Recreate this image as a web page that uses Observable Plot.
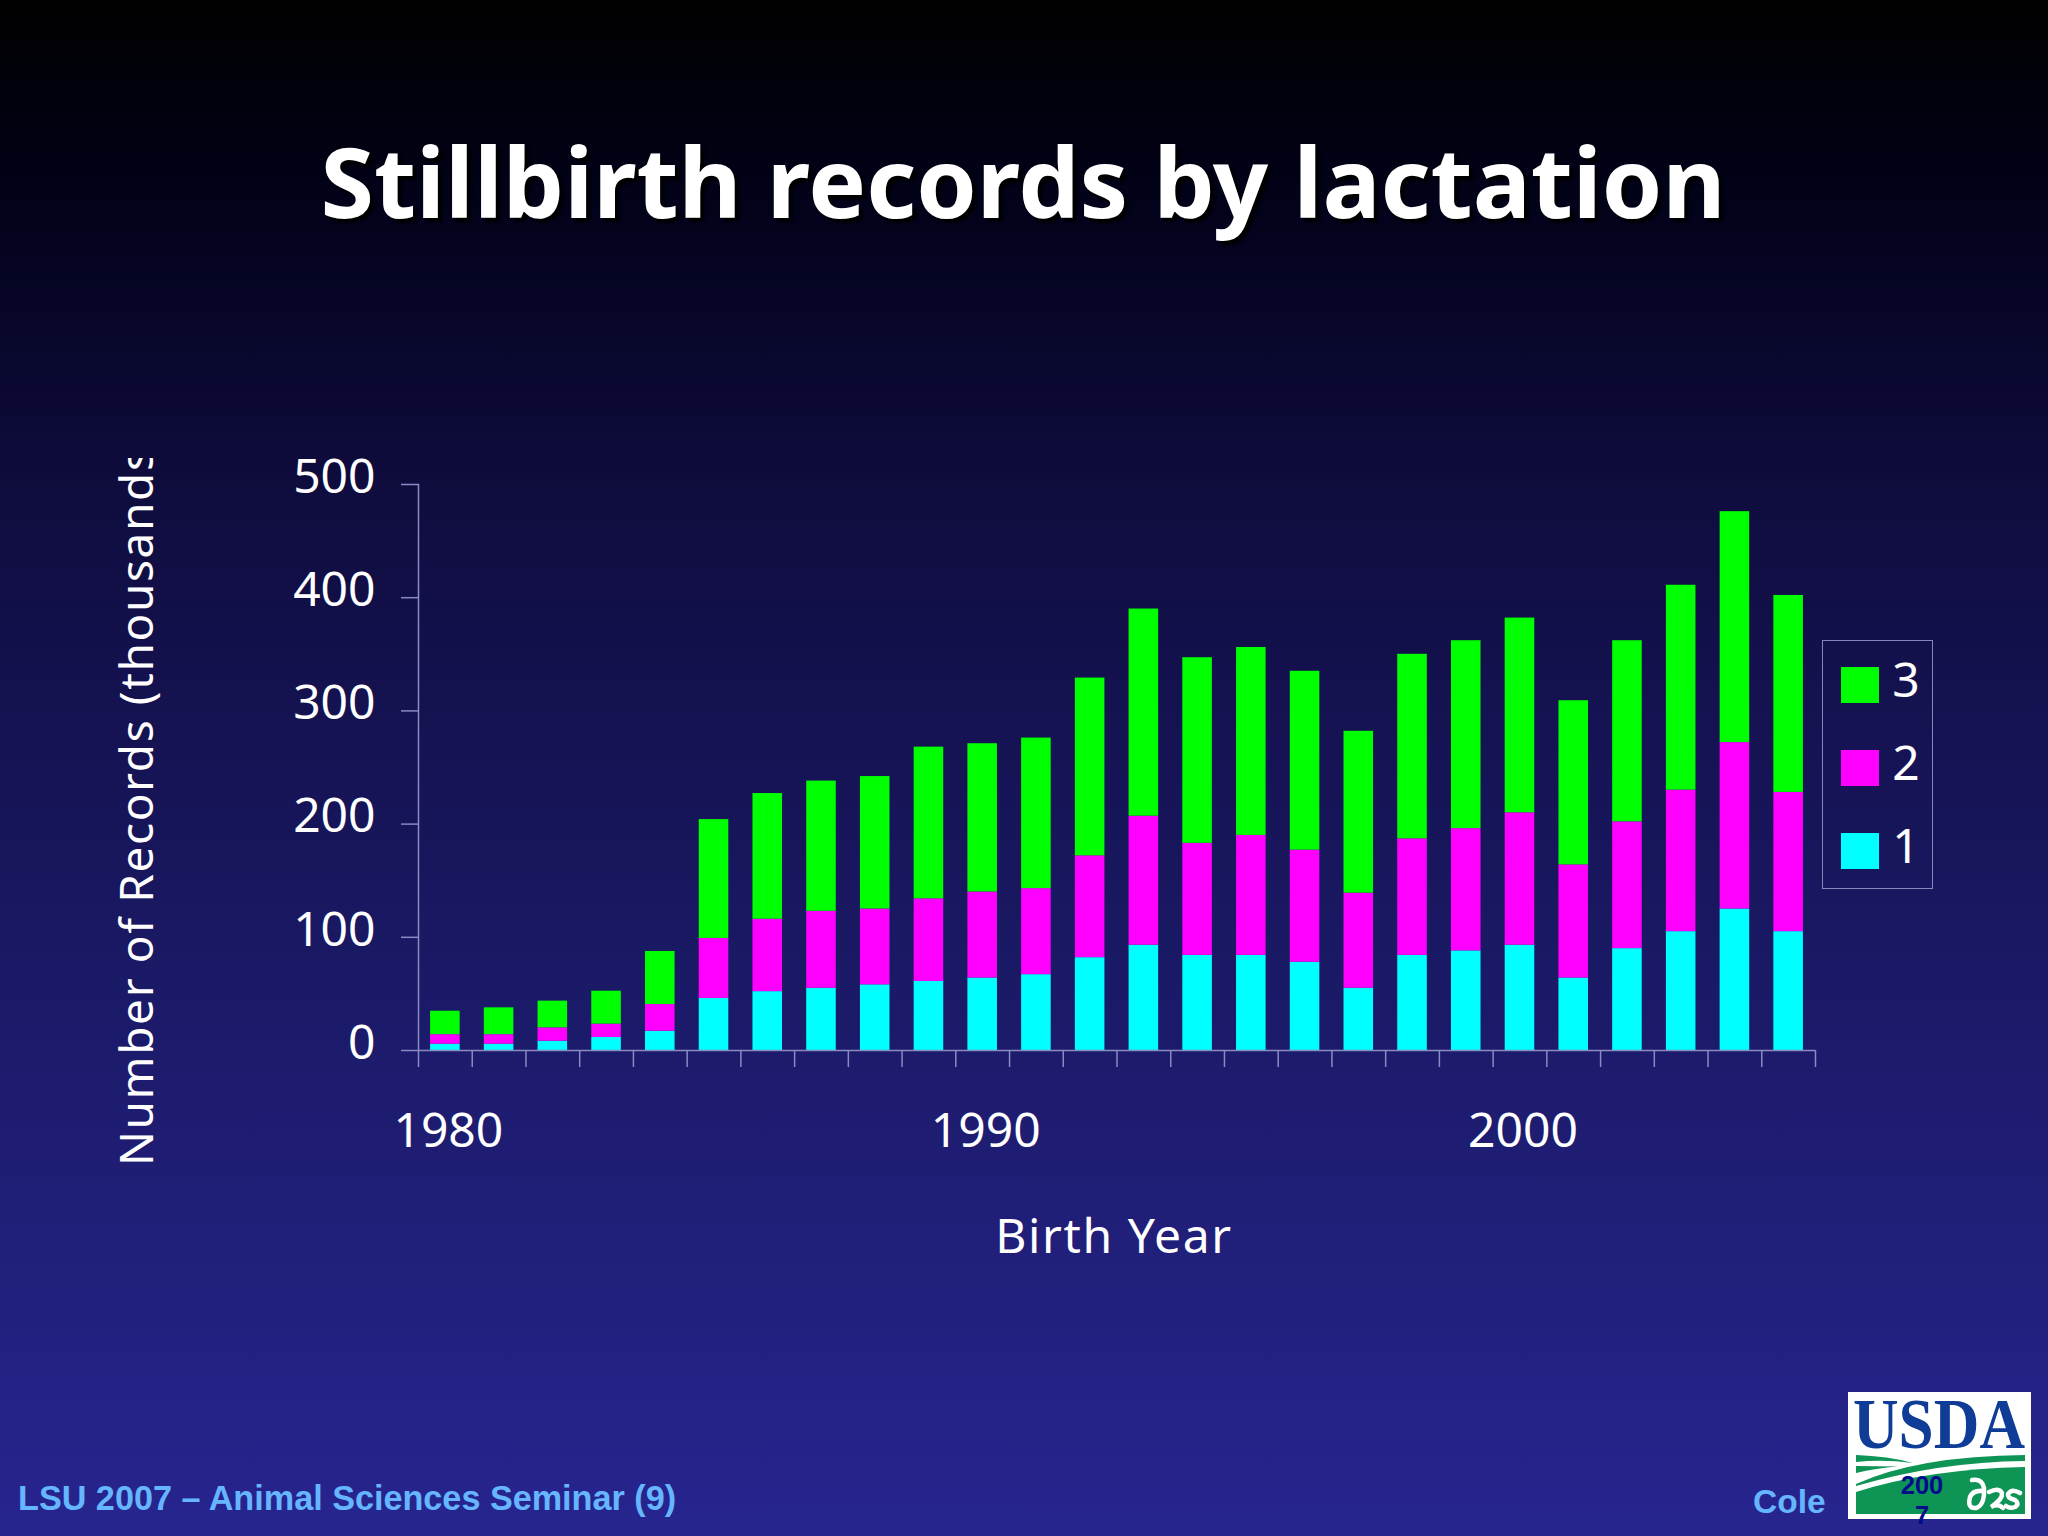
<!DOCTYPE html>
<html>
<head>
<meta charset="utf-8">
<script src="https://cdn.jsdelivr.net/npm/d3@7"></script>
<script src="https://cdn.jsdelivr.net/npm/@observablehq/plot@0.6"></script>
<style>
html,body{margin:0;padding:0;background:#000;}
#slide{position:relative;width:2048px;height:1536px;overflow:hidden;color:#fff;
  background:linear-gradient(180deg,#000 0px,#02021a 200px,#0f0c3e 484px,#1b1a68 1000px,#27258f 1536px);
  font-family:"Noto Sans",sans-serif;}
#slide>*{position:absolute;}
#title{left:0;width:2046px;top:115px;text-align:center;font-size:97px;line-height:130px;font-weight:700;white-space:nowrap;
  font-family:"Noto Sans",sans-serif;text-shadow:4px 4px 3px #000;}
#chart{left:0;top:420px;}
#ylab{left:106px;top:458px;width:58px;height:708px;overflow:hidden;writing-mode:vertical-rl;transform:rotate(180deg);white-space:nowrap;font-size:46px;line-height:58px;letter-spacing:1.6px;}
#xlab{left:914px;width:400px;top:1203px;text-align:center;font-size:48px;line-height:64px;letter-spacing:1.6px;}
#legend{left:1822px;top:640px;width:109px;height:247px;border:1.5px solid #8686bb;}
.key{position:absolute;left:18px;width:38px;height:36px;}
.lab{position:absolute;left:62px;width:42px;text-align:center;font-size:48px;line-height:50px;}
.foot{font-family:"Liberation Sans",sans-serif;font-weight:700;color:#66b5ff;font-size:33.5px;line-height:40px;white-space:nowrap;}
#foot1{left:18px;top:1478px;font-size:34.2px;}
#foot2{left:1753px;top:1482px;}
#logo{left:1848px;top:1380px;}
#yr{left:1887px;top:1470px;width:70px;text-align:center;font:700 25.5px/30px "Liberation Sans",sans-serif;color:#000c8c;}
</style>
</head>
<body>
<div id="slide">
  <div id="title">Stillbirth records by lactation</div>
  <div id="ylab">Number of Records (thousands)</div>
  <div id="xlab">Birth Year</div>
  <div id="legend"></div>
  <div id="foot1" class="foot">LSU 2007 – Animal Sciences Seminar (9)</div>
  <div id="foot2" class="foot">Cole</div>
  <svg id="logo" width="183" height="139" viewBox="0 -12 183 139">
    <rect width="183" height="127" fill="#fff"/>
    <text x="91" y="56" text-anchor="middle" textLength="172" lengthAdjust="spacingAndGlyphs" font-family="Liberation Serif" font-weight="700" font-size="72" fill="#0f3c96">USDA</text>
    <path d="M8 63 Q40 64 65 71 Q35 67 8 70Z" fill="#0e9455"/>
    <path d="M8 74 L50 74.5 Q28 76 8 81Z" fill="#0e9455"/>
    <path d="M8 92 Q70 64 177 63 L177 69 Q90 70 8 94Z" fill="#0e9455"/>
    <path d="M8 100 Q80 77 177 75 L177 122 L8 122Z" fill="#0e9455"/>
    <g fill="none" stroke="#fff" stroke-width="4.5" stroke-linecap="round">
      <path d="M124 88 Q134 86 136 96 Q137 113 128 116 Q119 117 122 105 Q125 98 135 99"/>
      <path d="M141 100 Q151 95 154 101 Q155 107 143 115 Q150 111 155 116"/>
      <path d="M172 101 Q164 96 160 102 Q159 106 167 108 Q172 112 167 115 Q162 117 158 114"/>
    </g>
  </svg>
  <div id="yr">200<br>7</div>
</div>
<script>
const years = d3.range(1980, 2006);
const lactation1 = [5.6,5.6,8.2,11.5,17,46,52,55,58,61,64,67,82,93,84,84,78,55,84,88,93,64,90,105,125,105];
const lactation2 = [8.4,8.4,11.8,11.8,23.6,53,64,68,67,73,76,76,90,114,99,106,99,84,103,108,117,100,112,125,147,123];
const lactation3 = [20.7,23.7,23.6,29.1,46.9,105,111,115,117,134,131,133,157,183,164,166,158,143,163,166,172,145,160,181,204,174];
const seriesNames = ["1","2","3"];
const seriesColors = ["#00ffff","#ff00ff","#00ff00"];
const yTicks = [0,100,200,300,400,500];
const xLabels = [1980,1990,2000];
const lavender = "#8a8ac4";

const rows = years.flatMap((year,i)=>[
  {year, lactation:"1", value:lactation1[i]},
  {year, lactation:"2", value:lactation2[i]},
  {year, lactation:"3", value:lactation3[i]}
]);

const W = 1900, ML = 418, MR = 85;
const step = (W-ML-MR)/years.length;

const chart = Plot.plot({
  width: W, height: 800,
  marginLeft: ML, marginRight: MR, marginTop: 64, marginBottom: 170,
  style:{background:"transparent",color:"#fff",fontFamily:'"Noto Sans",sans-serif',overflow:"visible"},
  x:{type:"band",domain:years,paddingInner:0.45,paddingOuter:0.225,align:0.5,round:false,label:null},
  y:{domain:[0,500],label:null},
  color:{domain:seriesNames,range:seriesColors},
  marks:[
    Plot.barY(rows,{x:"year",y:"value",fill:"lactation",order:seriesNames}),
    Plot.ruleY([0],{stroke:lavender,strokeWidth:1.5}),
    Plot.axisY({ticks:yTicks,tickSize:17,stroke:lavender,fill:"none",label:null,strokeWidth:1.5}),
    Plot.axisY({ticks:yTicks,tickSize:0,tickPadding:43,label:null,fill:"#fff",fontSize:48,dy:-7}),
    Plot.frame({anchor:"left",stroke:lavender,strokeWidth:1.5}),
    Plot.axisX({ticks:years,tickSize:17,stroke:lavender,strokeWidth:1.5,fill:"none",label:null,dx:-step/2}),
    Plot.axisX({ticks:[2005],tickSize:17,stroke:lavender,strokeWidth:1.5,fill:"none",label:null,dx:step/2}),
    Plot.axisX({ticks:xLabels,tickSize:0,tickPadding:44,tickFormat:d=>String(d),label:null,fill:"#fff",fontSize:48,dx:3,dy:18})
  ]
});
chart.id="chart";
document.getElementById("slide").appendChild(chart);

const legend = d3.select("#legend");
const keyTops = [192,109,26];
seriesNames.forEach((n,i)=>{
  legend.append("div").attr("class","key").style("top",keyTops[i]+"px").style("background",seriesColors[i]);
  legend.append("div").attr("class","lab").style("top",(keyTops[i]-13)+"px").text(n);
});
</script>
</body>
</html>
